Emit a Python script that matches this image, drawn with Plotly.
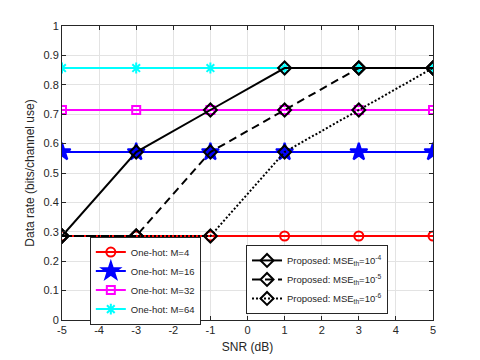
import plotly.graph_objects as go

snr = [-5, -3, -1, 1, 3, 5]
onehot_m4 = [0.2857, 0.2857, 0.2857, 0.2857, 0.2857, 0.2857]
onehot_m16 = [0.5714, 0.5714, 0.5714, 0.5714, 0.5714, 0.5714]
onehot_m32 = [0.7143, 0.7143, 0.7143, 0.7143, 0.7143, 0.7143]
onehot_m64 = [0.8571, 0.8571, 0.8571, 0.8571, 0.8571, 0.8571]
prop_1e4 = [0.2857, 0.5714, 0.7143, 0.8571, 0.8571, 0.8571]
prop_1e5 = [0.2857, 0.2857, 0.5714, 0.7143, 0.8571, 0.8571]
prop_1e6 = [0.2857, 0.2857, 0.2857, 0.5714, 0.7143, 0.8571]

x_ticks = [-5, -4, -3, -2, -1, 0, 1, 2, 3, 4, 5]
y_ticks = [0, 0.1, 0.2, 0.3, 0.4, 0.5, 0.6, 0.7, 0.8, 0.9, 1]
y_tick_labels = ["0", "0.1", "0.2", "0.3", "0.4", "0.5", "0.6", "0.7", "0.8", "0.9", "1"]

fig = go.Figure()

onehot = [
    ("One-hot: M=4", onehot_m4, "#ff0000", "circle-open", 9),
    ("One-hot: M=16", onehot_m16, "#0000ff", "star", 13),
    ("One-hot: M=32", onehot_m32, "#ff00ff", "square-open", 8),
    ("One-hot: M=64", onehot_m64, "#00ffff", "asterisk-open", 9),
]
for name, ys, col, sym, sz in onehot:
    fig.add_trace(go.Scatter(
        x=snr, y=ys, name=name, mode="lines+markers",
        line=dict(color=col, width=2),
        marker=dict(symbol=sym, size=sz, color=col, line=dict(color=col, width=2)),
        legend="legend",
    ))

proposed = [
    ("Proposed: MSE<sub>th</sub>=10<sup>-4</sup>", prop_1e4, "solid"),
    ("Proposed: MSE<sub>th</sub>=10<sup>-5</sup>", prop_1e5, "8px,5px"),
    ("Proposed: MSE<sub>th</sub>=10<sup>-6</sup>", prop_1e6, "2px,2px"),
]
for name, ys, dash in proposed:
    fig.add_trace(go.Scatter(
        x=snr, y=ys, name=name, mode="lines+markers",
        line=dict(color="black", width=2, dash=dash),
        marker=dict(symbol="diamond-open", size=10, color="black", line=dict(color="black", width=2)),
        legend="legend2",
    ))

axis_common = dict(
    showgrid=True, gridcolor="#e3e3e3", gridwidth=1,
    showline=True, linecolor="#262626", linewidth=1, mirror="ticks",
    ticks="inside", ticklen=4, tickcolor="#262626",
    tickfont=dict(family="Arial", size=11, color="#262626"),
    zeroline=False, automargin=False,
)

legend_font = dict(family="Arial", size=9.5, color="#262626")

# page body has an 8px default margin, so the figure is 8px smaller
fig.update_layout(
    width=472, height=352,
    margin=dict(l=54, r=47, t=18, b=40),
    paper_bgcolor="white", plot_bgcolor="white",
    font=dict(family="Arial", size=9.5, color="#262626"),
    xaxis=dict(range=[-5, 5], tickvals=x_ticks, ticktext=[str(v) for v in x_ticks],
               title=dict(text="SNR (dB)", font=dict(family="Arial", size=12, color="#262626"), standoff=7),
               **axis_common),
    yaxis=dict(range=[0, 1], tickvals=y_ticks, ticktext=y_tick_labels,
               title=dict(text="Data rate (bits/channel use)", font=dict(family="Arial", size=12, color="#262626"), standoff=6),
               **axis_common),
    legend=dict(x=0.075, y=0.134, xanchor="left", yanchor="middle",
                bgcolor="white", bordercolor="#262626", borderwidth=1,
                font=legend_font, tracegroupgap=0, itemwidth=30),
    legend2=dict(x=0.496, y=0.138, xanchor="left", yanchor="middle",
                 bgcolor="white", bordercolor="#262626", borderwidth=1,
                 font=legend_font, tracegroupgap=0, itemwidth=30),
)

fig.write_html("out.html")
